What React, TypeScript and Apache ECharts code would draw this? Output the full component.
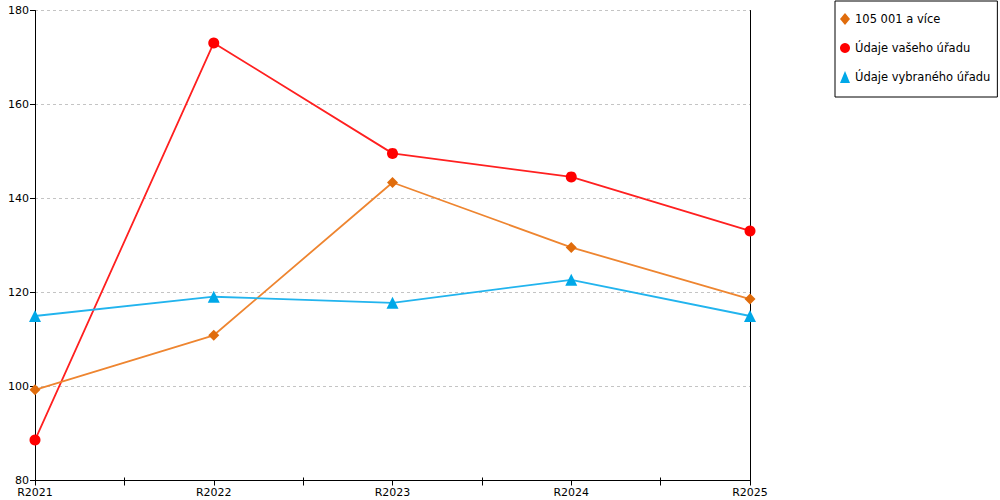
import React, { useEffect, useRef } from "react";
import * as echarts from "echarts";

const categories = ["R2021", "R2022", "R2023", "R2024", "R2025"];
const midTicks = ["a", "b", "c", "d"];
const seriesNames = ["105 001 a více", "Údaje vašeho úřadu", "Údaje vybraného úřadu"];
const orangeValues = [99.3, 110.9, 143.4, 129.6, 118.6];
const redValues = [88.6, 173.1, 149.6, 144.6, 133.1];
const blueValues = [115.0, 119.1, 117.8, 122.7, 115.0];

const FONT = "DejaVu Sans";

export default function App() {
  const ref = useRef<HTMLDivElement>(null);
  useEffect(() => {
    const chart = echarts.init(ref.current!, null, { renderer: "svg" });
    const hiddenTickAxis = (inside: boolean, len: number) => ({
      type: "category",
      data: midTicks,
      boundaryGap: true,
      position: "bottom",
      axisLine: { show: false },
      axisLabel: { show: false },
      splitLine: { show: false },
      axisTick: { show: true, alignWithLabel: true, inside, length: len, lineStyle: { color: "#000" } },
    });
    chart.setOption({
      animation: false,
      textStyle: { fontFamily: FONT },
      grid: { left: 35, right: 250, top: 10.5, bottom: 19.5, containLabel: false },
      legend: {
        orient: "vertical",
        left: 835,
        top: 1,
        padding: [12, 7, 14, 5],
        itemGap: 17,
        itemWidth: 10,
        itemHeight: 12,
        borderColor: "#000",
        borderWidth: 1,
        textStyle: { fontFamily: FONT, fontSize: 11.5, color: "#000" },
        data: [
          { name: seriesNames[0], icon: "diamond" },
          { name: seriesNames[1], icon: "circle" },
          { name: seriesNames[2], icon: "triangle" },
        ],
      },
      xAxis: [
        {
          type: "category",
          data: categories,
          boundaryGap: false,
          axisLine: { lineStyle: { color: "#000", width: 1 } },
          axisTick: { show: true, length: 5, lineStyle: { color: "#000" } },
          axisLabel: { color: "#000", fontFamily: FONT, fontSize: 11, margin: 6 },
          splitLine: { show: false },
        },
        hiddenTickAxis(false, 5),
        hiddenTickAxis(true, 3),
      ],
      yAxis: [
        {
          type: "value",
          min: 80,
          max: 180,
          interval: 20,
          axisLine: { show: true, lineStyle: { color: "#000", width: 1 } },
          axisTick: { show: true, length: 5, lineStyle: { color: "#000" } },
          axisLabel: { color: "#000", fontFamily: FONT, fontSize: 11, margin: 6 },
          splitLine: { show: true, lineStyle: { color: "#c4c4c4", type: [3, 3], width: 1 } },
        },
        {
          type: "value",
          min: 80,
          max: 180,
          interval: 20,
          position: "right",
          axisLine: { show: true, lineStyle: { color: "#000", width: 1 } },
          axisTick: { show: false },
          axisLabel: { show: false },
          splitLine: { show: false },
        },
      ],
      series: [
        {
          name: seriesNames[0],
          type: "line",
          data: orangeValues,
          symbol: "diamond",
          symbolSize: 11,
          itemStyle: { color: "#e06c0c" },
          lineStyle: { color: "#ee8530", width: 1.8 },
          z: 3,
        },
        {
          name: seriesNames[1],
          type: "line",
          data: redValues,
          symbol: "circle",
          symbolSize: 11,
          itemStyle: { color: "#ff0000" },
          lineStyle: { color: "#ff2020", width: 1.8 },
          z: 2,
        },
        {
          name: seriesNames[2],
          type: "line",
          data: blueValues,
          symbol: "triangle",
          symbolSize: 12,
          itemStyle: { color: "#00a8e8" },
          lineStyle: { color: "#22b4ee", width: 1.8 },
          z: 4,
        },
      ],
    });
    return () => chart.dispose();
  }, []);
  return <div ref={ref} style={{ width: 1000, height: 500, position: "absolute", left: 0, top: 0 }} />;
}
